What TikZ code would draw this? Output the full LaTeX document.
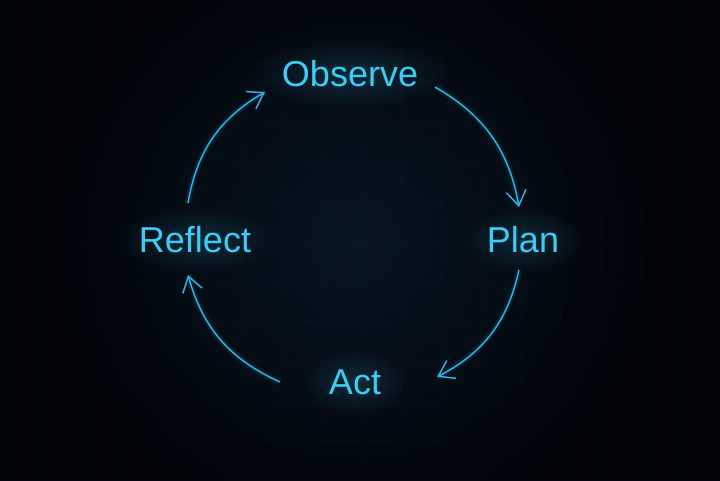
\documentclass[tikz,border=0pt]{standalone}
\usepackage{fontspec}
\setmainfont{Liberation Sans}
\usetikzlibrary{arrows.meta,fadings}
\definecolor{bgout}{HTML}{020409}
\definecolor{bgin}{HTML}{071524}
\definecolor{neon}{HTML}{3ECBF4}
\definecolor{arrowc}{HTML}{2FB2E4}
\tikzfading[name=glowfade, inner color=transparent!0, outer color=transparent!100]
\begin{document}
\begin{tikzpicture}[x=1pt,y=1pt,
  lbl/.style={text=neon,font=\fontsize{36}{43}\selectfont,inner sep=0pt},
  halo/.style={fill=neon,opacity=0.16,path fading=glowfade},
  cyc/.style={draw=arrowc,line width=1.5pt,-{Straight Barb[length=15pt,width=20pt,line width=1.5pt]}},
  cycglow/.style={draw=arrowc,line width=6pt,opacity=0.10}]
\useasboundingbox (0,0) rectangle (720,480);
\begin{scope}
\clip (-6,-6) rectangle (726,486);
\fill[bgout] (-6,-6) rectangle (726,486);
\shade[inner color=bgin, outer color=bgout] (354,240) circle (300);
\draw[neon, opacity=0.018, line width=0.6pt, step=40] (0,0) grid (720,480);
\end{scope}
% halos
\fill[halo] (350,406) ellipse (105 and 34);
\fill[halo] (523,240) ellipse (60 and 32);
\fill[halo] (355,98) ellipse (52 and 32);
\fill[halo] (195,240) ellipse (80 and 32);
% labels
\node[lbl] (obs) at (350,406) {Observe};
\node[lbl] (plan) at (523,240) {Plan};
\node[lbl] (act) at (355,98) {Act};
\node[lbl] (refl) at (195,240) {Reflect};
% arrow end points
\coordinate (a1s) at (435,393); \coordinate (a1e) at (519,273);
\coordinate (a2s) at (519,210); \coordinate (a2e) at (437,103);
\coordinate (a3s) at (280,98);  \coordinate (a3e) at (188,205);
\coordinate (a4s) at (188,277); \coordinate (a4e) at (265,388);
% glow
\draw[cycglow] (a1s) to[bend left=25] (a1e);
\draw[cycglow] (a2s) to[bend left=25] (a2e);
\draw[cycglow] (a3s) to[bend left=25] (a3e);
\draw[cycglow] (a4s) to[bend left=25] (a4e);
% arrows
\draw[cyc] (a1s) to[bend left=25] (a1e);
\draw[cyc] (a2s) to[bend left=25] (a2e);
\draw[cyc] (a3s) to[bend left=25] (a3e);
\draw[cyc] (a4s) to[bend left=25] (a4e);
\end{tikzpicture}
\end{document}
